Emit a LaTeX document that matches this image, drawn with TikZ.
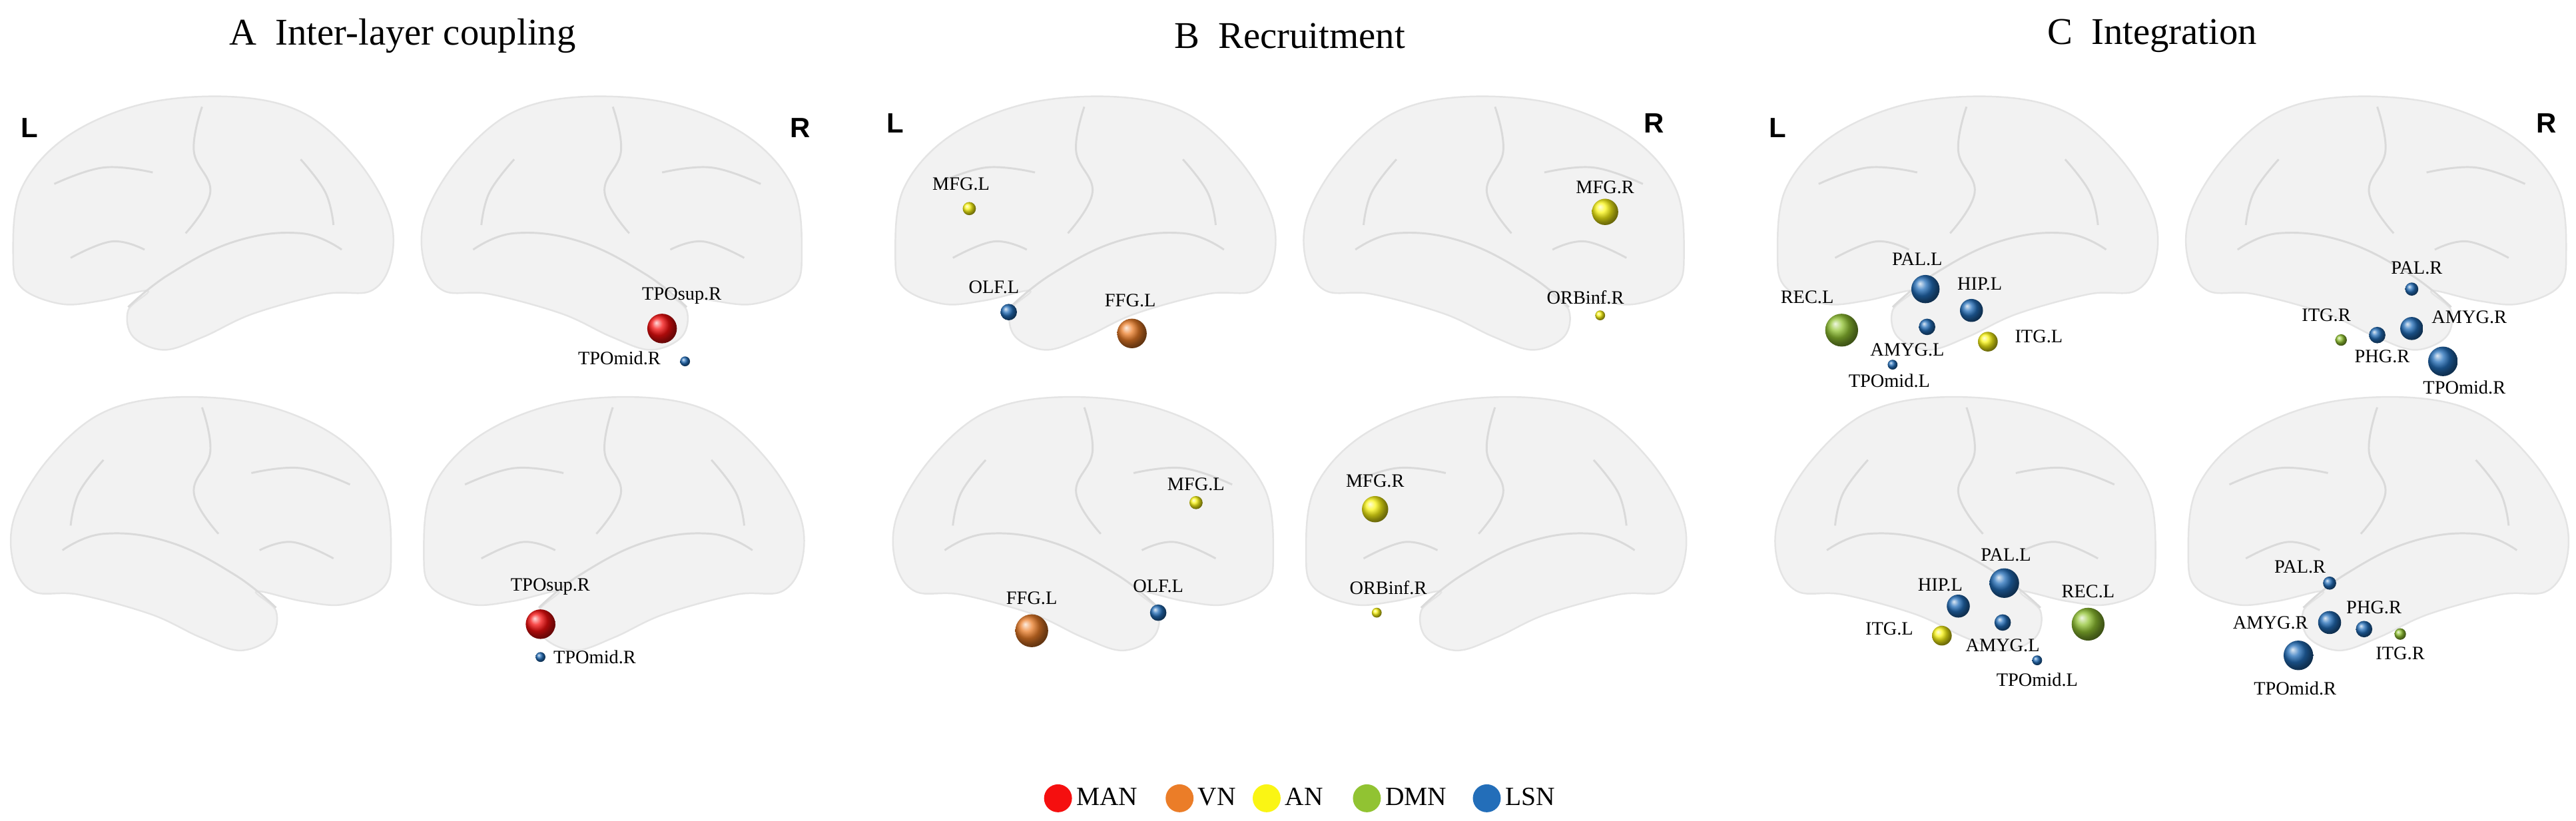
\documentclass[tikz,border=0pt]{standalone}
\usepackage{fontspec}
\setmainfont{Liberation Serif}
\newfontfamily\sansb{Liberation Sans}
\begin{document}
\definecolor{cman}{RGB}{245,15,15}
\definecolor{cvn}{RGB}{235,125,40}
\definecolor{can}{RGB}{250,245,20}
\definecolor{cdmn}{RGB}{145,195,50}
\definecolor{clsn}{RGB}{35,110,185}
\definecolor{brainfill}{RGB}{242,242,242}
\definecolor{brainedge}{RGB}{228,228,228}
\begin{tikzpicture}[x=1pt,y=-1pt,
  brain/.style={fill=brainfill,draw=brainedge,line width=1pt},
  sulc/.style={draw=brainedge!90!gray,line width=1.2pt},
  lab/.style={font=\fontsize{11.5}{11.5}\selectfont,inner sep=0pt},
  ttl/.style={font=\fontsize{23}{23}\selectfont},
  side/.style={font=\sansb\bfseries\fontsize{17}{17}\selectfont},
  leg/.style={font=\fontsize{16}{16}\selectfont,anchor=west,inner sep=0pt}]
\useasboundingbox (0,0) rectangle (1568,499.8);
\newcommand{\brainat}[3]{%
 \begin{scope}[shift={(#1,#2)},xscale=#3]
  \path[brain] plot[smooth cycle,tension=0.6] coordinates{(-115,18) (-110,-22) (-82,-54) (-35,-74) (20,-78) (62,-68) (94,-40) (114,-6) (115,22) (103,40) (75,42) (31,54) (1,68) (-23,76) (-42,68) (-45,52) (-33,40) (-61,46) (-86,48) (-110,38)};
  \draw[sulc] plot[smooth,tension=0.7] coordinates{(-45,50) (-20,30) (20,10) (60,5) (85,15)};
  \draw[sulc] plot[smooth,tension=0.7] coordinates{(0,-72) (-5,-45) (5,-20) (-10,5)};
  \draw[sulc] plot[smooth,tension=0.7] coordinates{(-90,-25) (-60,-35) (-30,-32)};
  \draw[sulc] plot[smooth,tension=0.7] coordinates{(60,-40) (75,-20) (80,0)};
  \draw[sulc] plot[smooth,tension=0.7] coordinates{(-80,20) (-55,10) (-35,15)};
 \end{scope}}
\newcommand{\nd}[5]{\node[circle,inner sep=0pt,minimum size=#4*2pt,ball color=#5] (#1) at (#2,#3) {};}
% titles
\node[ttl] (tA) at (245,22) {A\ \ Inter-layer coupling};
\node[ttl] (tB) at (785,22) {B\ \ Recruitment};
\node[ttl] (tC) at (1310,22) {C\ \ Integration};
\node[side] (LA) at (18,78) {L}; \node[side] (RA) at (487,78) {R};
\node[side] (LB) at (545,75) {L}; \node[side] (RB) at (1007,75) {R};
\node[side] (LC) at (1082,78) {L}; \node[side] (RC) at (1550,75) {R};
% brains
\foreach \cx in {123, 660, 1197}{
  \pgfmathsetmacro{\cxr}{\cx+250}
  \brainat{\cx}{137}{1}
  \brainat{\cxr}{137}{-1}
  \brainat{\cx}{320}{-1}
  \brainat{\cxr}{320}{1}}
% A
\nd{a1}{403}{200}{9}{cman} \node[lab] (la1) at (415,180) {TPOsup.R};
\nd{a2}{417}{220}{3}{clsn} \node[lab] (la2) at (377,218) {TPOmid.R};
\nd{a3}{329}{380}{9}{cman} \node[lab] (la3) at (335,357) {TPOsup.R};
\nd{a4}{329}{400}{3}{clsn} \node[lab] (la4) at (362,400) {TPOmid.R};
% B
\nd{b1}{590}{127}{4}{can} \node[lab] (lb1) at (585,112) {MFG.L};
\nd{b2}{614}{190}{5}{clsn} \node[lab] (lb2) at (605,175) {OLF.L};
\nd{b3}{689}{203}{9}{cvn} \node[lab] (lb3) at (688,183) {FFG.L};
\nd{b4}{977}{129}{8}{can} \node[lab] (lb4) at (977,114) {MFG.R};
\nd{b5}{974}{192}{3}{can} \node[lab] (lb5) at (965,181) {ORBinf.R};
\nd{b6}{728}{306}{4}{can} \node[lab] (lb6) at (728,295) {MFG.L};
\nd{b7}{628}{384}{10}{cvn} \node[lab] (lb7) at (628,364) {FFG.L};
\nd{b8}{705}{373}{5}{clsn} \node[lab] (lb8) at (705,357) {OLF.L};
\nd{b9}{837}{310}{8}{can} \node[lab] (lb9) at (837,293) {MFG.R};
\nd{b10}{838}{373}{3}{can} \node[lab] (lb10) at (845,358) {ORBinf.R};
% C top-left
\nd{c1}{1172}{176}{8.6}{clsn} \node[lab] (lc1) at (1167,158) {PAL.L};
\nd{c2}{1200}{189}{7}{clsn} \node[lab] (lc2) at (1205,173) {HIP.L};
\nd{c3}{1121}{201}{10}{cdmn} \node[lab] (lc3) at (1100,181) {REC.L};
\nd{c4}{1173}{199}{5}{clsn} \node[lab] (lc4) at (1161,213) {AMYG.L};
\nd{c5}{1210}{208}{6}{can} \node[lab] (lc5) at (1241,205) {ITG.L};
\nd{c6}{1152}{222}{3}{clsn} \node[lab] (lc6) at (1150,232) {TPOmid.L};
% C top-right
\nd{c7}{1468}{176}{4}{clsn} \node[lab] (lc7) at (1471,163) {PAL.R};
\nd{c8}{1425}{207}{3.5}{cdmn} \node[lab] (lc8) at (1416,192) {ITG.R};
\nd{c9}{1447}{204}{5}{clsn} \node[lab] (lc9) at (1450,217) {PHG.R};
\nd{c10}{1468}{200}{7}{clsn} \node[lab] (lc10) at (1503,193) {AMYG.R};
\nd{c11}{1487}{220}{9}{clsn} \node[lab] (lc11) at (1500,236) {TPOmid.R};
% C bottom-left
\nd{c12}{1220}{355}{9}{clsn} \node[lab] (lc12) at (1221,338) {PAL.L};
\nd{c13}{1192}{369}{7}{clsn} \node[lab] (lc13) at (1181,356) {HIP.L};
\nd{c14}{1271}{380}{10}{cdmn} \node[lab] (lc14) at (1271,360) {REC.L};
\nd{c15}{1219}{379}{5}{clsn} \node[lab] (lc15) at (1219,393) {AMYG.L};
\nd{c16}{1182}{387}{6}{can} \node[lab] (lc16) at (1150,383) {ITG.L};
\nd{c17}{1240}{402}{3}{clsn} \node[lab] (lc17) at (1240,414) {TPOmid.L};
% C bottom-right
\nd{c18}{1418}{355}{4}{clsn} \node[lab] (lc18) at (1400,345) {PAL.R};
\nd{c19}{1418}{379}{7}{clsn} \node[lab] (lc19) at (1382,379) {AMYG.R};
\nd{c20}{1439}{383}{5}{clsn} \node[lab] (lc20) at (1445,370) {PHG.R};
\nd{c21}{1461}{386}{3.5}{cdmn} \node[lab] (lc21) at (1461,398) {ITG.R};
\nd{c22}{1399}{399}{9}{clsn} \node[lab] (lc22) at (1397,419) {TPOmid.R};
% legend
\node[circle,fill=cman,minimum size=17pt,inner sep=0] (g1) at (644,486) {}; \node[leg] at (655,485) {MAN};
\node[circle,fill=cvn,minimum size=17pt,inner sep=0] (g2) at (718,486) {}; \node[leg] at (729,485) {VN};
\node[circle,fill=can,minimum size=17pt,inner sep=0] (g3) at (771,486) {}; \node[leg] at (782,485) {AN};
\node[circle,fill=cdmn,minimum size=17pt,inner sep=0] (g4) at (832,486) {}; \node[leg] at (843,485) {DMN};
\node[circle,fill=clsn,minimum size=17pt,inner sep=0] (g5) at (905,486) {}; \node[leg] at (916,485) {LSN};
\end{tikzpicture}
\end{document}
